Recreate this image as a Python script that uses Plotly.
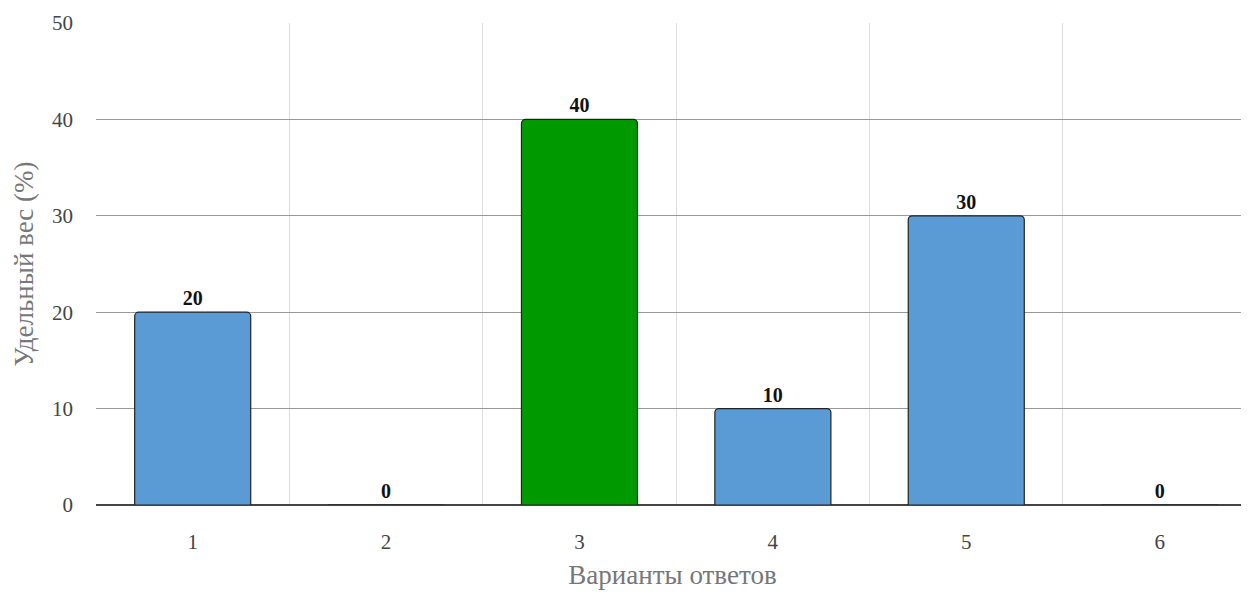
import plotly.graph_objects as go

categories = [1, 2, 3, 4, 5, 6]
values = [20, 0, 40, 10, 30, 0]
colors = ["#5b9bd5", "#5b9bd5", "#009900", "#5b9bd5", "#5b9bd5", "#5b9bd5"]
tick_labels = ["1", "2", "3", "4", "5", "6"]

fig = go.Figure()
fig.add_trace(go.Bar(
    x=categories, y=values,
    marker=dict(color=colors, line=dict(color="#222222", width=1.2), cornerradius=4),
    width=0.6,
    text=[str(v) for v in values],
    textposition="outside",
    textfont=dict(family="Liberation Serif", size=20, color="#111111", weight="bold"),
    cliponaxis=False,
))

fig.update_layout(
    width=1241, height=586,
    margin=dict(l=88, r=0, t=15, b=89, autoexpand=False),
    plot_bgcolor="white", paper_bgcolor="white",
    font=dict(family="Liberation Serif", color="#555555", size=21),
    showlegend=False,
)
fig.update_xaxes(
    range=[0.5, 6.462],
    tickmode="array", tickvals=categories, ticktext=tick_labels,
    showgrid=False,
    minor=dict(tick0=0.5, dtick=1, showgrid=True, gridcolor="#dddddd", gridwidth=1, ticks=""),
    title=dict(text="Варианты ответов", font=dict(size=27, color="#777777"), standoff=12),
    tickfont=dict(size=21, color="#444444"),
    ticklabelstandoff=22,
    ticks="", zeroline=False, showline=False, automargin=False,
)
fig.update_yaxes(
    range=[0, 50], dtick=10,
    showgrid=True, gridcolor="#999999", gridwidth=1,
    zeroline=True, zerolinecolor="#444444", zerolinewidth=2,
    title=dict(text="Удельный вес (%)", font=dict(size=27, color="#777777"), standoff=10),
    tickfont=dict(size=21, color="#444444"),
    ticklabelstandoff=22,
    ticks="", showline=False, automargin=False,
)

fig.write_html("out.html")
